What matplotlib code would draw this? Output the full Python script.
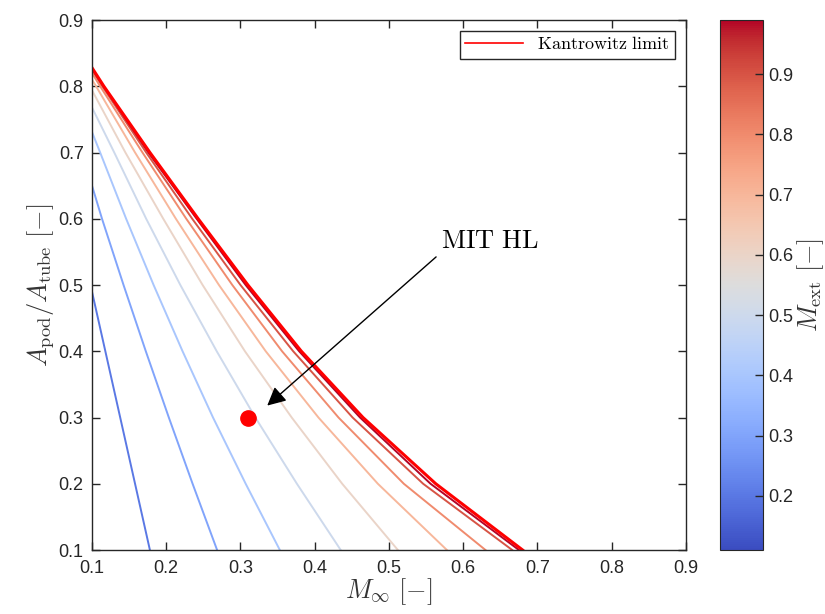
import numpy as np
import matplotlib
matplotlib.use('Agg')
import matplotlib.pyplot as plt
from matplotlib import cm, colors

plt.rcParams['mathtext.fontset'] = 'cm'
plt.rcParams['font.family'] = ['Liberation Sans', 'DejaVu Sans']

# exit Mach number of each curve
m_ext = [0.2, 0.3, 0.4, 0.5, 0.6, 0.7, 0.8, 0.9, 0.99]

# (M_inf, A_pod/A_tube)
curve_x = [
    [0.100, 0.118, 0.138, 0.158, 0.178],
    [0.100, 0.1135, 0.1425, 0.1725, 0.2035, 0.2355, 0.2685],
    [0.100, 0.111, 0.146, 0.183, 0.222, 0.263, 0.307, 0.353],
    [0.100, 0.130, 0.173, 0.219, 0.268, 0.320, 0.376, 0.435],
    [0.100, 0.145, 0.196, 0.249, 0.306, 0.369, 0.437, 0.512],
    [0.100, 0.1055, 0.158, 0.213, 0.271, 0.334, 0.405, 0.485, 0.578],
    [0.100, 0.111, 0.168, 0.227, 0.289, 0.356, 0.432, 0.520, 0.630],
    [0.100, 0.114, 0.173, 0.235, 0.300, 0.371, 0.451, 0.546, 0.666],
    [0.100, 0.1155, 0.176, 0.241, 0.307, 0.379, 0.461, 0.556, 0.675],
]
curve_y = [
    [0.49, 0.4, 0.3, 0.2, 0.1],
    [0.65, 0.6, 0.5, 0.4, 0.3, 0.2, 0.1],
    [0.731, 0.7, 0.6, 0.5, 0.4, 0.3, 0.2, 0.1],
    [0.768, 0.7, 0.6, 0.5, 0.4, 0.3, 0.2, 0.1],
    [0.794, 0.7, 0.6, 0.5, 0.4, 0.3, 0.2, 0.1],
    [0.810, 0.8, 0.7, 0.6, 0.5, 0.4, 0.3, 0.2, 0.1],
    [0.820, 0.8, 0.7, 0.6, 0.5, 0.4, 0.3, 0.2, 0.1],
    [0.825, 0.8, 0.7, 0.6, 0.5, 0.4, 0.3, 0.2, 0.1],
    [0.827, 0.8, 0.7, 0.6, 0.5, 0.4, 0.3, 0.2, 0.1],
]

kant_x = [0.100, 0.116, 0.178, 0.243, 0.310, 0.382, 0.465, 0.563, 0.680]
kant_y = [0.828, 0.8, 0.7, 0.6, 0.5, 0.4, 0.3, 0.2, 0.1]

mit_x, mit_y = 0.31, 0.30

fig = plt.figure(figsize=(8.25, 6.14), dpi=100)
ax = fig.add_axes([0.1115, 0.1042, 0.72, 0.8632])
cax = fig.add_axes([0.8727, 0.1042, 0.0521, 0.8632])

cmap = plt.get_cmap('coolwarm')
norm = colors.Normalize(vmin=0.11, vmax=0.99)

for m, xs, ys in zip(m_ext, curve_x, curve_y):
    ax.plot(xs, ys, color=cmap(norm(m)), lw=1.4, solid_joinstyle='round')

ax.plot(kant_x, kant_y, color='red', lw=2.2, solid_joinstyle='round',
        label=r'$\mathrm{Kantrowitz\ limit}$')
ax.plot(mit_x, mit_y, 'o', color='red', ms=11)

ax.annotate(r'$\mathrm{MIT\ HL}$', xy=(0.336, 0.318), xytext=(0.57, 0.567),
            fontsize=19, va='center', ha='left',
            arrowprops=dict(arrowstyle='-|>', color='k', lw=1.0,
                            mutation_scale=28, shrinkA=2, shrinkB=0,
                            relpos=(0.0, 0.0)))

ax.set_xlim(0.1, 0.9)
ax.set_ylim(0.1, 0.9)
ax.set_xticks(np.arange(0.1, 0.91, 0.1))
ax.set_yticks(np.arange(0.1, 0.91, 0.1))
ax.xaxis.set_major_formatter(matplotlib.ticker.FormatStrFormatter('%.1f'))
ax.yaxis.set_major_formatter(matplotlib.ticker.FormatStrFormatter('%.1f'))
ax.tick_params(direction='in', top=True, right=True, length=6, width=1,
               labelsize=13, colors='#262626')
ax.tick_params(axis='x', pad=7)
ax.tick_params(axis='y', pad=6)
for s in ax.spines.values():
    s.set_color('#262626')
    s.set_linewidth(1)

ax.set_xlabel(r'$M_\infty\ [-]$', fontsize=19, labelpad=0, color='#333333')
ax.set_ylabel(r'$A_\mathrm{pod}/A_\mathrm{tube}\ [-]$', fontsize=19,
              labelpad=2, color='#333333')

leg = ax.legend(loc='upper right', fontsize=13, fancybox=False,
                edgecolor='#262626', framealpha=1, handlelength=3.2,
                borderpad=0.3, borderaxespad=0.6)
leg.get_frame().set_linewidth(1)
leg.get_lines()[0].set_linewidth(1.2)

cb = fig.colorbar(cm.ScalarMappable(norm=norm, cmap=cmap), cax=cax)
cb.set_ticks(np.arange(0.2, 0.91, 0.1))
cb.ax.yaxis.set_major_formatter(matplotlib.ticker.FormatStrFormatter('%.1f'))
cb.ax.tick_params(direction='in', length=6, width=1, labelsize=13,
                  colors='#262626')
cb.outline.set_edgecolor('#262626')
cb.set_label(r'$M_\mathrm{ext}\ [-]$', fontsize=19, color='#333333', labelpad=2)

fig.savefig('out.png', dpi=100)
